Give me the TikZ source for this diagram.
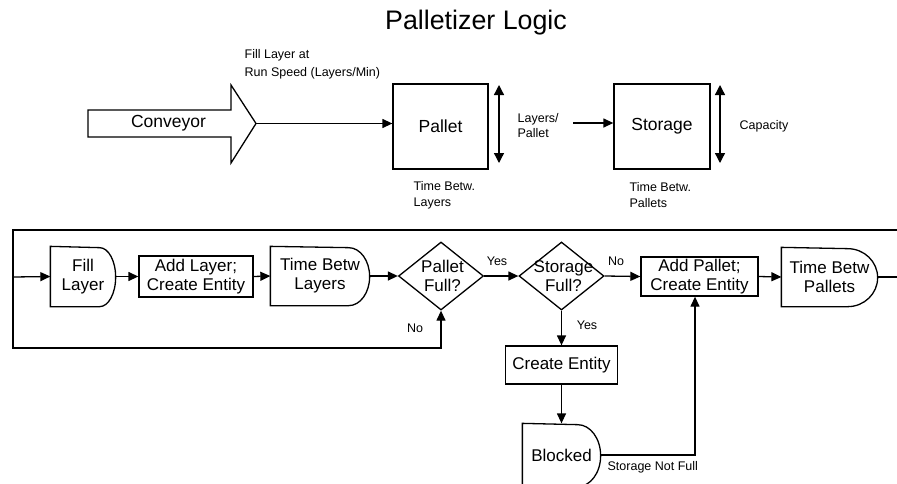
\documentclass[tikz,border=0pt]{standalone}
\usepackage{fontspec}
\setmainfont{Liberation Sans}
\usetikzlibrary{arrows.meta,shapes.geometric}

% curved right side of a "delay" box: #1 node name, #2 curve x radius, #3 half height
\newcommand\delayoutline[3]{%
  \draw ([xshift=-#2]#1.south east)
    arc[start angle=-90, end angle=90, x radius=#2, y radius=#3]
    -- (#1.north west) -- (#1.south west) -- cycle;}

\begin{document}
\begin{tikzpicture}[x=1pt, y=-1pt, line width=1.3pt,
  arr/.style={-{Triangle[length=10pt,width=9pt]}},
  dbl/.style={{Triangle[length=10pt,width=10pt]}-{Triangle[length=10pt,width=10pt]}},
  bigtxt/.style={font=\fontsize{17.5}{20}\selectfont},
  flowtxt/.style={font=\fontsize{17}{19}\selectfont, align=center, inner sep=0pt},
  smalltxt/.style={font=\fontsize{12.5}{16}\selectfont, align=left, inner sep=0pt},
  boxnode/.style={draw, rectangle, inner sep=0pt, align=center, font=\fontsize{17}{19}\selectfont},
  delaynode/.style={rectangle, inner sep=0pt, align=center, font=\fontsize{17}{19}\selectfont},
  dianode/.style={draw, diamond, inner sep=0pt, minimum width=85pt, minimum height=68pt}]

\useasboundingbox (0,0) rectangle (897,483);
\clip (0,0) rectangle (897,483);

% title
\node[font=\fontsize{26.8}{30}\selectfont, anchor=base] (title) at (476,29) {Palletizer Logic};

% ---------- overview ----------
\draw (88,110) -- (231,110) -- (231,85) -- (256,123.5) -- (231,163) -- (231,137) -- (88,137) -- cycle;
\coordinate (convtip) at (256,123.5);
\node[bigtxt] (conv) at (168.5,123.5) {Conveyor};

\node[smalltxt, anchor=west] (runspeed) at (244,64.5) {Fill Layer at\\[1.5pt]Run Speed (Layers/Min)};

\node[draw, minimum width=95pt, minimum height=85pt, inner sep=0pt, bigtxt] (pallet) at (440.5,126.5) {Pallet};
\draw[arr] (convtip) -- (convtip -| pallet.west);

\coordinate (ptop) at (499,85);
\coordinate (pbot) at (499,163);
\draw[dbl] (ptop) -- (pbot);
\node[smalltxt, anchor=west] (lpp) at (517,125.5) {Layers/\\[-1pt]Pallet};
\node[smalltxt, anchor=west] (tbl) at (413,195) {Time Betw.\\Layers};

\node[draw, minimum width=96pt, minimum height=85pt, inner sep=0pt, bigtxt] (storage) at (662,126.5) {Storage};
\coordinate (lppout) at (573,123);
\draw[arr] (lppout) -- (lppout -| storage.west);

\coordinate (stop) at (720,85);
\coordinate (sbot) at (720,163);
\draw[dbl] (stop) -- (sbot);
\node[smalltxt, anchor=west] (cap) at (739,126) {Capacity};
\node[smalltxt, anchor=west] (tbp) at (629,195) {Time Betw.\\Pallets};

% ---------- logic flow ----------
\node[delaynode, minimum width=64pt, minimum height=59pt] (fill) at (83,276.5) {Fill\\Layer};
\delayoutline{fill}{16pt}{29.5pt}

\node[boxnode, minimum width=114pt, minimum height=41pt] (addl) at (196,276.5) {Add Layer;\\Create Entity};

\node[delaynode, minimum width=98pt, minimum height=58pt] (tbla) at (320,276) {Time Betw\\Layers};
\delayoutline{tbla}{21pt}{29pt}

\node[dianode] (pfull) at (441,276) {};
\node[flowtxt] (pfulltxt) at (442.5,276) {Pallet\\Full?};

\node[dianode] (sfull) at (561.5,276) {};
\node[flowtxt] (sfulltxt) at (563.5,276) {Storage\\Full?};

\node[boxnode, minimum width=117pt, minimum height=39pt] (apal) at (699.5,276.5) {Add Pallet;\\Create Entity};

\node[delaynode, minimum width=95pt, minimum height=58pt] (tbpa) at (829.5,277) {Time Betw\\Pallets};
\delayoutline{tbpa}{30pt}{29pt}

\node[boxnode, minimum width=112pt, minimum height=38pt] (cent) at (561.5,365) {Create Entity};

\node[delaynode, minimum width=77pt, minimum height=62pt] (blk) at (561.5,455) {Blocked};
\delayoutline{blk}{23pt}{31pt}

% loop frame and connectors
\coordinate (frtr) at (897,230);
\coordinate (frtl) at (13,230);
\coordinate (frbl) at (13,348);
\coordinate (entry) at (13,277);
\coordinate (exit) at (897,277);
\coordinate (bturn) at (695,455);

\draw[arr] (frtr) -- (frtl) -- (frbl) -- (frbl -| pfull.south) -- (pfull.south);
\draw[arr] (entry) -- (fill.west);
\draw[arr] (fill.east) -- (addl.west);
\draw[arr] (addl.east) -- (tbla.west);
\draw[arr] (tbla.east) -- (pfull.west);
\draw[arr] (pfull.east) -- (sfull.west);
\draw[arr] (sfull.east) -- (apal.west);
\draw[arr] (apal.east) -- (tbpa.west);
\draw (tbpa.east) -- (exit);
\draw[arr] (sfull.south) -- (cent.north);
\draw[arr] (cent.south) -- (blk.north);
\draw[arr] (blk.east) -- (bturn) -- (bturn |- apal.south);

\node[smalltxt] (yes1) at (497,261.5) {Yes};
\node[smalltxt] (no1) at (616,261) {No};
\node[smalltxt] (yes2) at (587,325) {Yes};
\node[smalltxt] (no2) at (415,328) {No};
\node[smalltxt, anchor=west] (snf) at (607,467) {Storage Not Full};

\end{tikzpicture}
\end{document}
